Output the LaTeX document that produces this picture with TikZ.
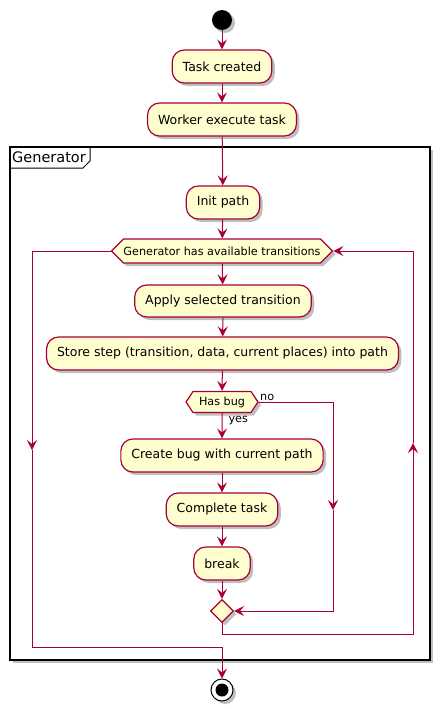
\documentclass[tikz,border=0pt]{standalone}
\usepackage{fontspec}
\setmainfont{DejaVu Sans}
\usetikzlibrary{arrows.meta,shapes.geometric,shapes.symbols,shadows}
\definecolor{umlred}{HTML}{A80036}
\definecolor{umlfill}{HTML}{FEFECE}
\tikzset{
    umlshadow/.style={drop shadow={shadow xshift=3pt, shadow yshift=-3pt, opacity=0.25, fill=black}},
    action/.style={rectangle, rounded corners=12pt, draw=umlred, fill=umlfill, line width=1.2pt,
        minimum height=33pt, inner xsep=10.5pt, font=\fontsize{12.5}{14}\selectfont, umlshadow},
    choice/.style={signal, signal to=west and east, draw=umlred, fill=umlfill, line width=1.2pt,
        inner ysep=0pt, font=\fontsize{11.2}{13}\selectfont, umlshadow},
    flow/.style={draw=umlred, line width=1pt, -{Stealth[length=10pt,width=10pt,inset=4pt]}},
    branchlabel/.style={font=\fontsize{11.2}{13}\selectfont, inner sep=1pt},
}
\begin{document}
\begin{tikzpicture}[x=1pt, y=-1pt]
        \useasboundingbox (0,0) rectangle (439,709);
        % frame
        \draw[line width=1.5pt, fill=white, umlshadow] (10,147) rectangle (430,660);
        \draw[line width=1pt] (10,168) -- (83,168) -- (90,161) -- (90,147);
        \node[anchor=west, font=\fontsize{14.5}{16}\selectfont, inner sep=1pt] (framelabel) at (11,157) {Generator};

        \node[circle, fill=black, minimum size=20pt, inner sep=0pt, umlshadow] (start) at (222,20) {};
        \node[action] (taskcreated) at (222,66.5) {Task created\ };
        \node[action] (workerexec) at (222,119.5) {Worker execute task\ };
        \node[action] (initpath) at (223,202.5) {Init path};
        \node[choice, minimum height=24pt, signal pointer angle=90, inner xsep=0pt] (hasnext) at (222,251)
            {Generator has available transitions};
        \node[action, minimum height=32pt] (applytrans) at (223,301) {Apply selected transition\ };
        \node[action] (storestep) at (222.5,353.5) {Store step (transition, data, current places) into path\hspace{16pt}};
        \node[choice, minimum height=21pt, signal pointer angle=113, inner xsep=6pt] (hasbug) at (222,402) {Has bug};
        \node[action] (createbug) at (222,455.5) {Create bug with current path\ };
        \node[action] (completetask) at (222,509.5) {Complete task\ };
        \node[action] (breakloop) at (222,563.5) {break};
        \node[diamond, draw=umlred, fill=umlfill, line width=1.2pt, minimum size=23pt, inner sep=0pt, umlshadow]
            (merge) at (222,611) {};
        \node[circle, draw=black, fill=white, line width=1pt, minimum size=22pt, inner sep=0pt, umlshadow]
            (stop) at (222,690) {};
        \node[circle, fill=black, minimum size=13pt, inner sep=0pt] (stopdot) at (stop) {};

        \coordinate (nobend) at (333,402);
        \coordinate (nomid) at (333,510);
        \coordinate (nobottom) at (333,611);
        \coordinate (exitbend) at (32,251);
        \coordinate (exitmid) at (32,450);
        \coordinate (exitbottom) at (32,647);
        \coordinate (exitjoin) at (222,647);
        \coordinate (loopjoin) at (222,634);
        \coordinate (loopcorner) at (413,634);
        \coordinate (loopmid) at (413,443);
        \coordinate (looptop) at (413,251);

        \draw[flow] (start) -- (taskcreated);
        \draw[flow] (taskcreated) -- (workerexec);
        \draw[flow] (workerexec) -- (initpath);
        \draw[flow] (initpath) -- (hasnext);
        \draw[flow] (hasnext) -- (applytrans);
        \draw[flow] (applytrans) -- (storestep);
        \draw[flow] (storestep) -- (hasbug);
        \draw[flow] (hasbug) -- node[branchlabel, pos=0.3, anchor=west, xshift=5pt] (yeslabel) {yes} (createbug);
        \draw[flow] (createbug) -- (completetask);
        \draw[flow] (completetask) -- (breakloop);
        \draw[flow] (breakloop) -- (merge);
        \draw[flow] (hasbug.east) -- node[branchlabel, pos=0, anchor=south west] (nolabel) {no} (nobend) -- (nomid);
        \draw[flow] (nomid) -- (nobottom) -- (merge.east);
        \draw[flow] (hasnext.west) -- (exitbend) -- (exitmid);
        \draw[flow] (exitmid) -- (exitbottom) -- (exitjoin) -- (stop);
        \draw[flow] (merge) -- (loopjoin) -- (loopcorner) -- (loopmid);
        \draw[flow] (loopmid) -- (looptop) -- (hasnext.east);
    \end{tikzpicture}
\end{document}
